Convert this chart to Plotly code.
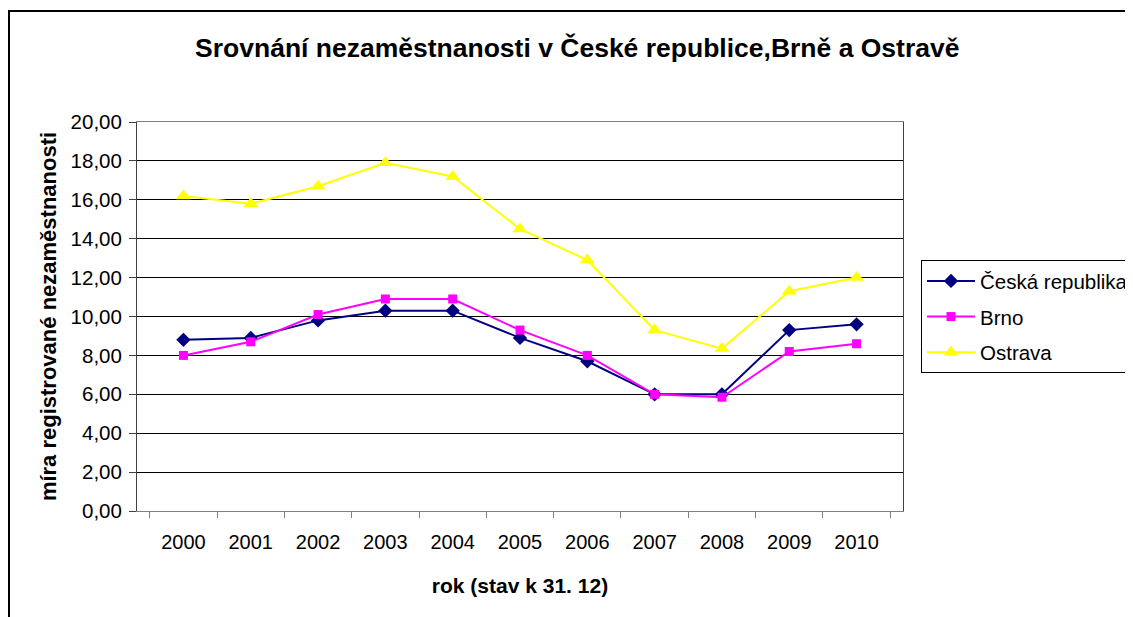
import plotly.graph_objects as go

years = ['2000', '2001', '2002', '2003', '2004', '2005', '2006', '2007', '2008', '2009', '2010']
cr = [8.8, 8.9, 9.8, 10.3, 10.3, 8.9, 7.7, 6.0, 6.0, 9.3, 9.6]
brno = [8.0, 8.7, 10.1, 10.9, 10.9, 9.3, 8.0, 6.0, 5.85, 8.2, 8.6]
ostrava = [16.2, 15.8, 16.7, 17.9, 17.2, 14.5, 12.9, 9.3, 8.35, 11.3, 12.0]

series = [
	('Česká republika', cr, '#000080', 'diamond', 11),
	('Brno', brno, '#FF00FF', 'square', 9),
	('Ostrava', ostrava, '#FFFF00', 'triangle-up', 13),
]

font = 'Arial, Liberation Sans, sans-serif'

fig = go.Figure()
for name, vals, col, sym, sz in series:
	fig.add_trace(go.Scatter(
		x=years, y=vals, name=name, mode='lines+markers',
		legendgroup=name,
		line=dict(color=col, width=2),
		marker=dict(symbol=sym, size=sz, color=col),
	))

# page body adds 8px, so the figure is 8px smaller and margins shifted
fig.update_layout(
	width=1125, height=609,
	margin=dict(l=129, r=230, t=114, b=106, autoexpand=False),
	paper_bgcolor='white', plot_bgcolor='white',
	font=dict(family=font, size=20, color='black'),
	separators=',.',
	title=dict(text='<b>Srovnání nezaměstnanosti v České republice,Brně a Ostravě</b>',
		x=0.506, xanchor='center', y=0.934, yanchor='middle',
		font=dict(family=font, size=26.5, color='black')),
	legend=dict(x=1.0235, xanchor='left', y=0.645, yanchor='top',
		bordercolor='black', borderwidth=1, bgcolor='white',
		font=dict(family=font, size=20.5, color='black'), itemwidth=48,
		traceorder='grouped', tracegroupgap=6),
	xaxis=dict(type='category', tickson='boundaries', ticks='outside', ticklen=6,
		tickcolor='#808080', showline=True, linecolor='#808080', linewidth=1,
		mirror=True, showgrid=False, ticklabelstandoff=13,
		tickfont=dict(family=font, size=20, color='black')),
	yaxis=dict(range=[0, 20], dtick=2, tickformat='.2f', ticks='outside', ticklen=7,
		tickcolor='#404040', showline=True, linecolor='#404040', linewidth=1,
		mirror=True, gridcolor='black', gridwidth=1, zeroline=False,
		ticklabelstandoff=3,
		tickfont=dict(family=font, size=20.5, color='black')),
)
fig.update_xaxes(title_text='<b>rok (stav k 31. 12)</b>', title_standoff=26,
	title_font=dict(family=font, size=21, color='black'))
fig.update_yaxes(title_text='<b>míra registrované nezaměstnanosti</b>', title_standoff=7,
	title_font=dict(family=font, size=22, color='black'))

# outer chart frame (only top and left edges visible in crop)
fig.add_shape(type='rect', xref='paper', yref='paper',
	x0=-0.1671, x1=1.6, y0=-0.5, y1=1.2853,
	line=dict(color='black', width=2), layer='below')

fig.write_html('out.html')
